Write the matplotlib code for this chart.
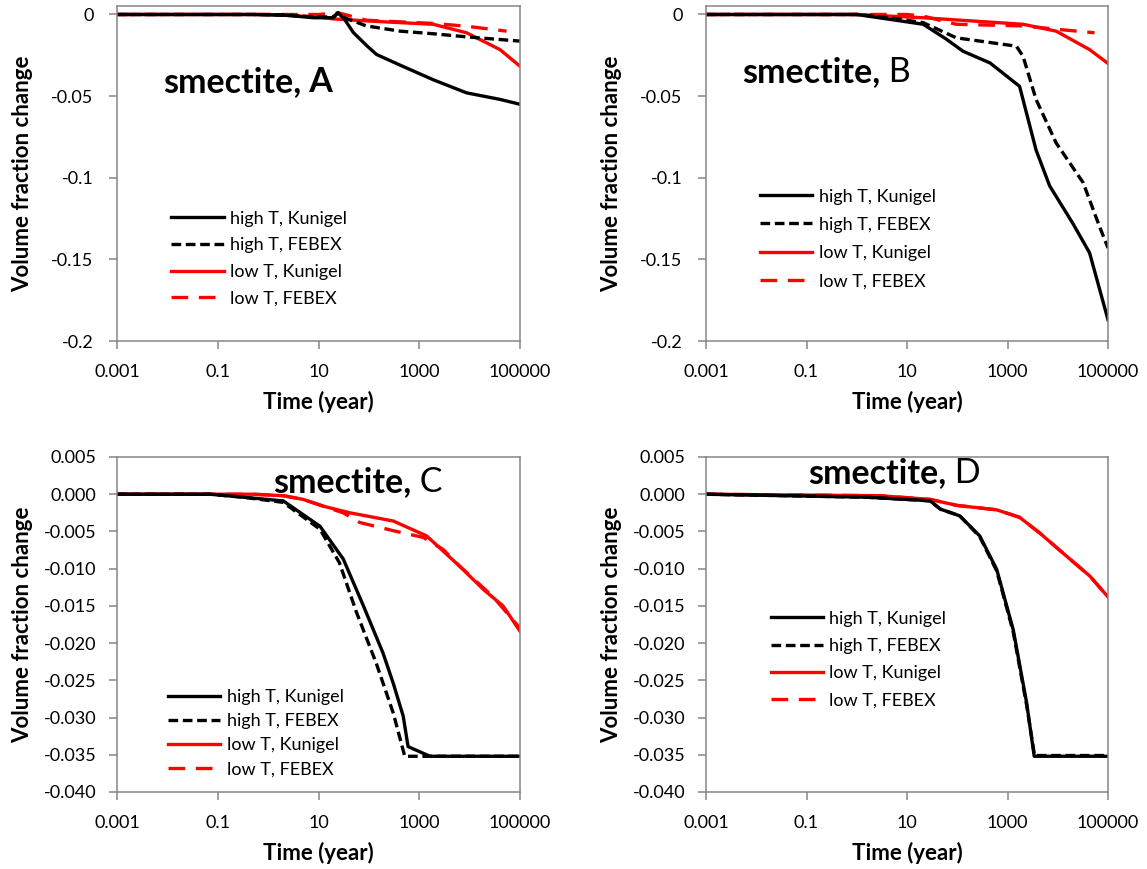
import matplotlib.pyplot as plt

plt.rcParams['font.family'] = ['Lato', 'DejaVu Sans']
plt.rcParams['axes.unicode_minus'] = False

# ---- data (time in years, volume fraction change) ----
labels = ["high T, Kunigel", "high T, FEBEX", "low T, Kunigel", "low T, FEBEX"]

# panel A
a_hk_t = [0.001, 0.5, 2.3, 8, 19.5, 24.5, 33, 49, 90, 142, 415, 1900, 8700, 40000, 100000]
a_hk_v = [0, 0, -0.0005, -0.002, -0.002, 0.001, -0.003, -0.011, -0.019, -0.0245, -0.031, -0.040, -0.048, -0.052, -0.055]
a_hf_t = [0.001, 0.5, 2.3, 8, 19.5, 24.5, 33, 89, 415, 1900, 8700, 100000]
a_hf_v = [0, 0, -0.0003, -0.0015, -0.0015, 0.001, -0.002, -0.007, -0.0102, -0.0118, -0.0137, -0.0163]
a_lk_t = [0.001, 1, 10, 19.5, 100, 415, 1900, 8700, 40000, 100000]
a_lk_v = [0, 0, -0.0015, -0.0027, -0.004, -0.005, -0.006, -0.0112, -0.0215, -0.0317]
a_lf_t = [0.001, 10, 24.5, 33, 89, 415, 1900, 8700, 54000]
a_lf_v = [0, 0, 0.001, 0.0, -0.0035, -0.0045, -0.0055, -0.0072, -0.0102]

# panel B
b_hk_t = [0.001, 1, 4.6, 21, 60, 130, 450, 1740, 3700, 6900, 20000, 43000, 100000]
b_hk_v = [0, 0, -0.003, -0.006, -0.015, -0.0225, -0.0297, -0.044, -0.083, -0.105, -0.128, -0.146, -0.187]
b_hf_t = [0.001, 1, 4.6, 21, 96, 1500, 2040, 3700, 9300, 32000, 68000, 100000]
b_hf_v = [0, 0, -0.002, -0.005, -0.0143, -0.0194, -0.0256, -0.052, -0.0787, -0.103, -0.13, -0.143]
b_lk_t = [0.001, 1, 21, 2040, 9300, 43000, 100000]
b_lk_v = [0, 0, -0.002, -0.006, -0.0102, -0.0215, -0.030]
b_lf_t = [0.001, 10, 21, 96, 2040, 9300, 54000]
b_lf_v = [0, 0, -0.001, -0.006, -0.007, -0.009, -0.0112]

# panel C
c_hk_t = [0.001, 0.07, 0.32, 2.0, 10.7, 31, 78, 190, 305, 480, 600, 1630, 100000]
c_hk_v = [0, 0, -0.0004, -0.0009, -0.0043, -0.0087, -0.0150, -0.0213, -0.0254, -0.0298, -0.0339, -0.0352, -0.0352]
c_hf_t = [0.001, 0.07, 0.32, 2.0, 10.7, 26, 57, 140, 305, 515, 100000]
c_hf_v = [0, 0, -0.0004, -0.0011, -0.0047, -0.0092, -0.0159, -0.0227, -0.0294, -0.0352, -0.0352]
c_lk_t = [0.001, 0.5, 2.0, 5.0, 12.4, 42, 305, 1400, 6400, 18800, 46000, 100000]
c_lk_v = [0, 0, -0.0002, -0.0007, -0.0016, -0.0025, -0.0036, -0.0056, -0.0097, -0.0128, -0.015, -0.0184]
c_lf_t = [0.001, 0.5, 2.0, 5.0, 12.4, 31, 66, 305, 1200, 2960, 6400, 29500, 100000]
c_lf_v = [0, 0, -0.0002, -0.0007, -0.0016, -0.0025, -0.0038, -0.0049, -0.0058, -0.0074, -0.0097, -0.0138, -0.0180]

# panel D
d_hk_t = [0.001, 1.55, 18, 29, 46, 112, 280, 610, 1300, 2400, 3400, 100000]
d_hk_v = [0, -0.0004, -0.0008, -0.0009, -0.002, -0.0029, -0.0056, -0.0101, -0.0182, -0.028, -0.0352, -0.0352]
d_hf_t = [0.001, 1.55, 18, 29, 46, 112, 280, 610, 1300, 2400, 3450, 100000]
d_hf_v = [0, -0.0004, -0.0008, -0.0009, -0.002, -0.0029, -0.0057, -0.0103, -0.0185, -0.0283, -0.0351, -0.0351]
d_lk_t = [0.001, 2.9, 29, 98, 610, 1740, 4360, 17400, 43600, 100000]
d_lk_v = [0, -0.0002, -0.0007, -0.0015, -0.0021, -0.0031, -0.0052, -0.0087, -0.011, -0.0138]
d_lf_t = d_lk_t
d_lf_v = d_lk_v

x_ticks = [0.001, 0.1, 10, 1000, 100000]
x_ticklabels = ["0.001", "0.1", "10", "1000", "100000"]
y_ticks_ab = [0, -0.05, -0.1, -0.15, -0.2]
y_ticklabels_ab = ["0", "-0.05", "-0.1", "-0.15", "-0.2"]
y_ticks_cd = [0.005, 0, -0.005, -0.01, -0.015, -0.02, -0.025, -0.03, -0.035, -0.04]
y_ticklabels_cd = ["0.005", "0.000", "-0.005", "-0.010", "-0.015", "-0.020",
                   "-0.025", "-0.030", "-0.035", "-0.040"]

GREY = "#868686"
styles = [dict(color="black", lw=2.4, ls="-"),
          dict(color="black", lw=2.4, ls=(0, (2.9, 1.4))),
          dict(color="#ff0000", lw=2.4, ls="-"),
          dict(color="#ff0000", lw=2.4, ls=(0, (5.0, 3.2)))]

fig = plt.figure(figsize=(11.47, 8.69), dpi=100)
W, H = 1147, 869


def make_ax(left, top, right, bottom):
    return fig.add_axes([left / W, 1 - bottom / H, (right - left) / W, (bottom - top) / H])


def setup(ax, ylim, yt, ytl, ypad):
    ax.set_xscale("log")
    ax.set_xlim(0.001, 100000)
    ax.set_ylim(*ylim)
    ax.set_xticks(x_ticks)
    ax.set_xticklabels(x_ticklabels)
    ax.minorticks_off()
    ax.set_yticks(yt)
    ax.set_yticklabels(ytl)
    for s in ax.spines.values():
        s.set_color(GREY)
        s.set_linewidth(1.1)
    ax.tick_params(direction="out", length=6, width=1.1, color=GREY, labelsize=13, labelcolor="black")
    ax.tick_params(axis="x", pad=10.4)
    ax.tick_params(axis="y", pad=ypad)
    ax.set_xlabel("Time (year)", fontsize=16, fontweight="bold")
    ax.set_ylabel("Volume fraction change", fontsize=16, fontweight="bold")
    ax.xaxis.set_label_coords(0.5, -0.149)
    ax.yaxis.set_label_coords(-0.2075, 0.5)


def title(ax, x, y, letter, bold_letter=False):
    t1 = ax.text(x, y, "smectite,", transform=ax.transAxes, fontsize=24.5,
                 fontweight="bold", va="baseline", ha="left")
    ax.annotate(" " + letter, xy=(1, 0), xycoords=t1, va="bottom", ha="left",
                fontsize=24.5, fontweight="bold" if bold_letter else "normal")


panels = [
    ((117, 6, 520, 341), [(a_hk_t, a_hk_v), (a_hf_t, a_hf_v), (a_lk_t, a_lk_v), (a_lf_t, a_lf_v)],
     (-0.2, 0.0052), y_ticks_ab, y_ticklabels_ab, 11, (0.114, 0.743), "A", True, (0.135, 0.389), 0.59),
    ((706, 6, 1108, 341), [(b_hk_t, b_hk_v), (b_hf_t, b_hf_v), (b_lk_t, b_lk_v), (b_lf_t, b_lf_v)],
     (-0.2, 0.0052), y_ticks_ab, y_ticklabels_ab, 11, (0.0896, 0.774), "B", False, (0.134, 0.455), 0.675),
    ((117, 457, 520, 792), [(c_hk_t, c_hk_v), (c_hf_t, c_hf_v), (c_lk_t, c_lk_v), (c_lf_t, c_lf_v)],
     (-0.04, 0.005), y_ticks_cd, y_ticklabels_cd, 9, (0.387, 0.896), "C", False, (0.1266, 0.3075), 0.45),
    ((706, 457, 1108, 792), [(d_hk_t, d_hk_v), (d_hf_t, d_hf_v), (d_lk_t, d_lk_v), (d_lf_t, d_lf_v)],
     (-0.04, 0.005), y_ticks_cd, y_ticklabels_cd, 9, (0.254, 0.921), "D", False, (0.161, 0.5415), 0.63),
]

for box, series, ylim, yt, ytl, ypad, tpos, letter, bl, legpos, lsp in panels:
    ax = make_ax(*box)
    setup(ax, ylim, yt, ytl, ypad)
    # FEBEX drawn first so Kunigel sits on top
    for i in [3, 2, 1, 0]:
        t, v = series[i]
        ax.plot(t, v, label=labels[i], **styles[i])
    h, l = ax.get_legend_handles_labels()
    order = [3, 2, 1, 0]
    ax.legend([h[k] for k in order], [l[k] for k in order], loc="upper left",
              bbox_to_anchor=legpos, frameon=False, fontsize=13, handlelength=2.9,
              handletextpad=0.35, labelspacing=lsp, borderaxespad=0, borderpad=0)
    title(ax, tpos[0], tpos[1], letter, bl)

fig.savefig("out.png", dpi=100)
